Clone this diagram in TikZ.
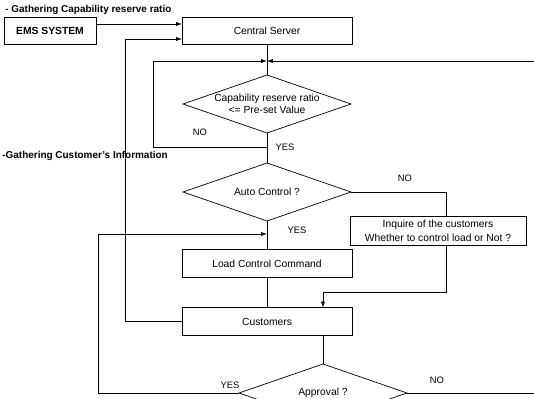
\documentclass[tikz,border=0pt]{standalone}
\usepackage{fontspec}
\setmainfont{Liberation Sans}
\usetikzlibrary{arrows.meta}

\begin{document}
\begin{tikzpicture}[x=0.03cm, y=-0.03cm, line width=0.6pt,
    font=\fontsize{8.8}{10.5}\selectfont,
    box/.style={draw, rectangle, inner sep=0pt, outer sep=0pt, minimum width=5.1cm, minimum height=0.84cm, align=center},
    decision/.style={rectangle, inner sep=0pt, outer sep=0pt, minimum width=5.04cm, minimum height=1.74cm, align=center},
    arr/.style={-{Latex[length=5pt,width=3.5pt]}},
    lbl/.style={inner sep=0pt, font=\fontsize{8}{10}\selectfont},
    note/.style={inner sep=0pt, anchor=west, font=\fontsize{8.5}{10}\selectfont\bfseries}]
    \useasboundingbox (0,0) rectangle (534,399);
    \node [note] (capnote) at (5,10) {- Gathering Capability reserve ratio};
    \node [box, minimum width=2.76cm, minimum height=0.81cm, font=\fontsize{8.8}{10.5}\selectfont\bfseries] (ems) at (50,30.5) {EMS SYSTEM};
    \node [box, minimum height=0.81cm] (server) at (267,30.5) {Central Server};
    \node [decision] (ratio) at (267,104) {Capability reserve ratio\\<= Pre-set Value};
    \node [decision] (auto) at (267,192) {Auto Control ?};
    \node [box] (load) at (267,263.5) {Load Control Command};
    \node [box] (cust) at (267,321.5) {Customers};
    \node [box, minimum width=5.28cm, minimum height=0.87cm] (inquire) at (438,230.5) {Inquire of the customers\\[1.5pt]Whether to control load or Not ?};
    \node [decision] (approval) at (323,393) {Approval ?};
    \draw (ratio.north) -- (ratio.east) -- (ratio.south) -- (ratio.west) -- cycle;
    \draw (auto.north) -- (auto.east) -- (auto.south) -- (auto.west) -- cycle;
    \draw (approval.north) -- (approval.east) -- (approval.south) -- (approval.west) -- cycle;
    \node [note] (infonote) at (2,156) {-Gathering Customer's Information};
    \node [lbl] (no1) at (200,132) {NO};
    \node [lbl] (yes1) at (285,147) {YES};
    \node [lbl] (no2) at (405,178) {NO};
    \node [lbl] (yes2) at (297,230) {YES};
    \node [lbl] (yes3) at (230,385) {YES};
    \node [lbl] (no3) at (437,380) {NO};
    \coordinate (merge) at (267,61);
    \coordinate (rightin) at (534,61);
    \coordinate (noback) at (153,147);
    \coordinate (custback) at (125,39);
    \coordinate (yesback) at (98,234);
    \coordinate (inqline) at (446,216);
    \coordinate (custin) at (323,292);
    \coordinate (rightout) at (534,393);
    \draw [arr] (ems.east |- 0,24) -- (server.west |- 0,24);
    \draw [arr] (cust.west) -| (custback) -- (custback -| server.west);
    \draw (server.south) -- (ratio.north);
    \draw [arr] (rightin) -- (merge);
    \draw [arr] (ratio.south |- noback) -- (noback) |- (merge);
    \draw (ratio.south) -- (auto.north);
    \draw (auto.east) -| (inqline);
    \draw (auto.south) -- (load.north);
    \draw [arr] (approval.west) -| (yesback) -- (yesback -| auto.south);
    \draw (load.south) -- (cust.north);
    \draw [arr] (inqline |- inquire.south) |- (custin) -- (custin |- cust.north);
    \draw (custin |- cust.south) -- (approval.north);
    \draw (approval.east) -- (rightout);
\end{tikzpicture}
\end{document}
